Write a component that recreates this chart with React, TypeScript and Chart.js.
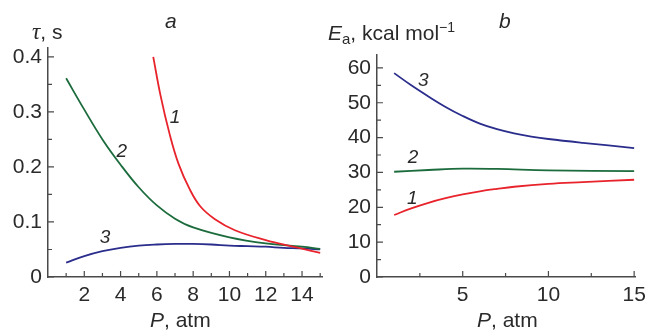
import React, { useEffect, useRef } from "react";
import { Chart, registerables } from "chart.js";
Chart.register(...registerables);

const FONT = "'Liberation Sans', Arial, sans-serif";
const SERIF = "'Liberation Serif', 'Times New Roman', serif";
const AXIS = "#4a4a4a";
const TEXT = "#2a2a2a";
const RED = "#e8232b";
const GREEN = "#1b6b3c";
const BLUE = "#2a2d8c";

// ---- Panel a: tau (s) vs P (atm)
const aP1 = [5.8, 6.2, 6.7, 7.2, 7.8, 8.4, 9.2, 10.3, 12.0, 13.5, 15];
const aTau1 = [0.4, 0.33, 0.26, 0.205, 0.16, 0.128, 0.105, 0.085, 0.067, 0.055, 0.044];
const aP2 = [1, 2, 3, 4, 5, 6, 7, 8, 10, 12, 14, 15];
const aTau2 = [0.361, 0.304, 0.25, 0.204, 0.163, 0.13, 0.106, 0.09, 0.072, 0.061, 0.055, 0.051];
const aP3 = [1, 2, 3, 4, 5, 6, 7, 8, 9, 10, 11, 12, 13, 14, 15];
const aTau3 = [0.026, 0.038, 0.047, 0.053, 0.057, 0.059, 0.06, 0.06, 0.059, 0.057, 0.056, 0.055, 0.053, 0.052, 0.05];
const aXMajor = [2, 4, 6, 8, 10, 12, 14];
const aXMinor = [1, 3, 5, 7, 9, 11, 13, 15];
const aYMajor = [0, 0.1, 0.2, 0.3, 0.4];
const aYMinor = [0.05, 0.15, 0.25, 0.35];
const aLabelText = ["1", "2", "3"];
const aLabelP = [7.0, 4.07, 3.14];
const aLabelY = [0.289, 0.227, 0.071];

// ---- Panel b: Ea (kcal/mol) vs P (atm)
const bP1 = [1, 2, 3, 4, 5, 6, 7, 8, 10, 12, 15];
const bE1 = [17.8, 19.7, 21.3, 22.6, 23.7, 24.6, 25.3, 25.9, 26.7, 27.2, 27.9];
const bP2 = [1, 3, 5, 7, 10, 15];
const bE2 = [30.2, 30.7, 31.1, 31.0, 30.6, 30.4];
const bP3 = [1, 2, 3, 4, 5, 6, 7, 8, 9, 10, 12, 15];
const bE3 = [58.5, 55.0, 51.8, 48.8, 46.2, 44.0, 42.4, 41.2, 40.3, 39.6, 38.5, 37.0];
const bXMajor = [5, 10, 15];
const bXMinor = [2.5, 7.5, 12.5];
const bYMajor = [0, 10, 20, 30, 40, 50, 60];
const bYMinor = [5, 15, 25, 35, 45, 55];
const bLabelText = ["1", "2", "3"];
const bLabelP = [2.06, 2.1, 2.7];
const bLabelY = [22.4, 34.2, 56.4];

const zip = (xs: number[], ys: number[]) => xs.map((x, i) => ({ x, y: ys[i] }));

const inwardTicks = {
  id: "inwardTicks",
  afterDraw(chart: any, _args: any, opts: any) {
    const { ctx } = chart;
    const x = chart.scales.x;
    const y = chart.scales.y;
    ctx.save();
    ctx.strokeStyle = AXIS;
    ctx.lineWidth = 1.2;
    ctx.beginPath();
    const seg = (x0: number, y0: number, x1: number, y1: number) => {
      ctx.moveTo(x0, y0);
      ctx.lineTo(x1, y1);
    };
    opts.xMajor.forEach((v: number) => { const p = x.getPixelForValue(v); seg(p, y.bottom, p, y.bottom - 6); });
    opts.xMinor.forEach((v: number) => { const p = x.getPixelForValue(v); seg(p, y.bottom, p, y.bottom - 4); });
    opts.yMajor.forEach((v: number) => { const p = y.getPixelForValue(v); seg(x.left, p, x.left + 6, p); });
    opts.yMinor.forEach((v: number) => { const p = y.getPixelForValue(v); seg(x.left, p, x.left + 4, p); });
    ctx.stroke();
    ctx.fillStyle = TEXT;
    ctx.font = `italic 19px ${FONT}`;
    ctx.textAlign = "center";
    ctx.textBaseline = "middle";
    opts.labels.forEach((t: string, i: number) => {
      ctx.fillText(t, x.getPixelForValue(opts.labelX[i]), y.getPixelForValue(opts.labelY[i]));
    });
    ctx.restore();
  },
};

type PanelProps = {
  left: number;
  width: number;
  yAxisWidth: number;
  top: number;
  right: number;
  xMax: number;
  yMax: number;
  series: { x: number; y: number }[][];
  colors: string[];
  xMajor: number[];
  xMinor: number[];
  yMajor: number[];
  yMinor: number[];
  yFmt: (v: number) => string;
  labels: string[];
  labelX: number[];
  labelY: number[];
};

function Panel(p: PanelProps) {
  const ref = useRef<HTMLCanvasElement>(null);
  useEffect(() => {
    const chart = new Chart(ref.current as HTMLCanvasElement, {
      type: "line",
      data: {
        datasets: p.series.map((s, i) => ({
          data: s,
          borderColor: p.colors[i],
          borderWidth: 1.8,
          pointRadius: 0,
          fill: false,
          tension: 0.4,
        })),
      },
      options: {
        animation: false,
        responsive: false,
        layout: { padding: { left: 0, top: p.top, right: p.right, bottom: 0 } },
        plugins: {
          legend: { display: false },
          tooltip: { enabled: false },
          inwardTicks: {
            xMajor: p.xMajor, xMinor: p.xMinor, yMajor: p.yMajor, yMinor: p.yMinor,
            labels: p.labels, labelX: p.labelX, labelY: p.labelY,
          },
        } as any,
        scales: {
          x: {
            type: "linear",
            min: 0,
            max: p.xMax,
            grid: { display: false, drawTicks: false },
            border: { display: true, color: AXIS, width: 1.5 },
            ticks: {
              color: TEXT,
              font: { family: FONT, size: 21 },
              padding: 6,
              maxRotation: 0,
              callback: (v: any) => String(v),
            },
            afterBuildTicks: (s: any) => { s.ticks = p.xMajor.map((v) => ({ value: v })); },
            afterFit: (s: any) => { s.height = 54; s.paddingLeft = 0; s.paddingRight = 0; },
          },
          y: {
            type: "linear",
            min: 0,
            max: p.yMax,
            grid: { display: false, drawTicks: false },
            border: { display: true, color: AXIS, width: 1.5 },
            ticks: {
              color: TEXT,
              font: { family: FONT, size: 21 },
              padding: 6,
              callback: (v: any) => p.yFmt(Number(v)),
            },
            afterBuildTicks: (s: any) => { s.ticks = p.yMajor.map((v) => ({ value: v })); },
            afterFit: (s: any) => { s.width = p.yAxisWidth; s.paddingTop = 0; s.paddingBottom = 0; },
          },
        },
      },
      plugins: [inwardTicks],
    });
    return () => chart.destroy();
  }, []);
  return (
    <canvas
      ref={ref}
      width={p.width}
      height={331}
      style={{ position: "absolute", left: p.left, top: 0, width: p.width, height: 331 }}
    />
  );
}

export default function App() {
  const title: React.CSSProperties = {
    position: "absolute",
    fontFamily: FONT,
    fontSize: 21,
    lineHeight: "21px",
    color: TEXT,
    whiteSpace: "nowrap",
  };
  return (
    <div style={{ position: "absolute", left: 0, top: 0, width: 647, height: 331, background: "#fff", overflow: "hidden" }}>
      <Panel
        left={0}
        width={335}
        yAxisWidth={48}
        top={48}
        right={13}
        xMax={15.1}
        yMax={0.416}
        series={[zip(aP1, aTau1), zip(aP2, aTau2), zip(aP3, aTau3)]}
        colors={[RED, GREEN, BLUE]}
        xMajor={aXMajor}
        xMinor={aXMinor}
        yMajor={aYMajor}
        yMinor={aYMinor}
        yFmt={(v) => (v === 0 ? "0" : v.toFixed(1))}
        labels={aLabelText}
        labelX={aLabelP}
        labelY={aLabelY}
      />
      <Panel
        left={335}
        width={312}
        yAxisWidth={42}
        top={55}
        right={12}
        xMax={15.05}
        yMax={63.7}
        series={[zip(bP1, bE1), zip(bP2, bE2), zip(bP3, bE3)]}
        colors={[RED, GREEN, BLUE]}
        xMajor={bXMajor}
        xMinor={bXMinor}
        yMajor={bYMajor}
        yMinor={bYMinor}
        yFmt={(v) => String(v)}
        labels={bLabelText}
        labelX={bLabelP}
        labelY={bLabelY}
      />
      <div style={{ ...title, left: 32, top: 21 }}><i style={{ fontFamily: SERIF, fontSize: 23 }}>τ</i>, s</div>
      <div style={{ ...title, left: 165, top: 10 }}><i>a</i></div>
      <div style={{ ...title, left: 150, top: 309 }}><i>P</i>, atm</div>
      <div style={{ ...title, left: 328, top: 22 }}>
        <i>E</i><span style={{ fontSize: 15, position: "relative", top: 4 }}>a</span>, kcal mol
        <span style={{ fontSize: 14, position: "relative", top: -8 }}>−1</span>
      </div>
      <div style={{ ...title, left: 499, top: 10 }}><i>b</i></div>
      <div style={{ ...title, left: 477, top: 309 }}><i>P</i>, atm</div>
    </div>
  );
}
